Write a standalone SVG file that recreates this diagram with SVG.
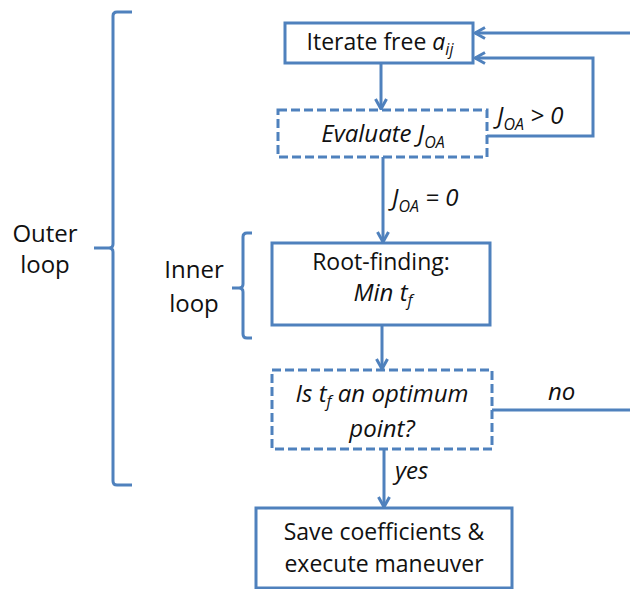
<svg xmlns="http://www.w3.org/2000/svg" width="630" height="589" viewBox="0 0 630 589">
  <style>
    .box { fill: #ffffff; stroke: #4F81BD; stroke-width: 3; }
    .dash { stroke-dasharray: 9 4; }
    .wire { fill: none; stroke: #4F81BD; stroke-width: 3; }
    .brace { fill: none; stroke: #4F81BD; stroke-width: 3; stroke-linejoin: round; }
    text { font-family: "Open Sans", "Liberation Sans", sans-serif; fill: #111111; }
    .t { font-size: 23px; text-anchor: middle; }
    .ti { font-size: 24px; font-style: italic; text-anchor: middle; }
    .lbl { font-size: 24px; font-style: italic; }
    .side { font-size: 24px; text-anchor: middle; }
    .i { font-style: italic; }
    .sub { font-size: 16px; }
  </style>
  <defs>
    <marker id="arrow" markerUnits="userSpaceOnUse" viewBox="0 0 14 14" refX="12" refY="7" markerWidth="14" markerHeight="14" orient="auto">
      <path d="M2,1.5 L12,7 L2,12.5" fill="none" stroke="#4F81BD" stroke-width="3" stroke-linejoin="miter"/>
    </marker>
  </defs>

  <!-- loop brackets -->
  <g id="outer-loop">
    <path class="brace" d="M132,12 H117 Q113,12 113,16 V244 Q113,248 109,248 H94 M109,248 Q113,248 113,252 V481 Q113,485 117,485 H132"/>
    <text class="side" x="45" y="242">Outer</text>
    <text class="side" x="45" y="273">loop</text>
  </g>
  <g id="inner-loop">
    <path class="brace" d="M252,233 H247 Q243,233 243,237 V284 Q243,288 239,288 H232 M239,288 Q243,288 243,292 V334 Q243,338 247,338 H252"/>
    <text class="side" x="194" y="278">Inner</text>
    <text class="side" x="194" y="312">loop</text>
  </g>

  <!-- connectors -->
  <g id="connectors">
    <path class="wire" d="M381,63 V109" marker-end="url(#arrow)"/>
    <path class="wire" d="M383,157 V242" marker-end="url(#arrow)"/>
    <path class="wire" d="M382,325 V369" marker-end="url(#arrow)"/>
    <path class="wire" d="M384,449 V507" marker-end="url(#arrow)"/>
    <path class="wire" d="M487,136 H593 V58 H475" marker-end="url(#arrow)"/>
    <path class="wire" d="M492,410 H640 V33 H475" marker-end="url(#arrow)"/>
    <text class="lbl" x="497" y="124">J<tspan class="sub" dy="6">OA</tspan><tspan dy="-6"> &gt; 0</tspan></text>
    <text class="lbl" x="392" y="206">J<tspan class="sub" dy="6">OA</tspan><tspan dy="-6"> = 0</tspan></text>
    <text class="lbl" x="548" y="400">no</text>
    <text class="lbl" x="395" y="479">yes</text>
  </g>

  <!-- nodes -->
  <g id="iterate">
    <rect class="box" x="285" y="23" width="188" height="40"/>
    <text class="t" x="380" y="50">Iterate free <tspan class="i">a</tspan><tspan class="i sub" dy="5">ij</tspan></text>
  </g>
  <g id="evaluate">
    <rect class="box dash" x="278" y="110" width="209" height="47"/>
    <text class="ti" x="383" y="142">Evaluate J<tspan class="sub" dy="6">OA</tspan></text>
  </g>
  <g id="root-finding">
    <rect class="box" x="272" y="243" width="218" height="82"/>
    <text class="t" x="381" y="270">Root-finding:</text>
    <text class="ti" x="383" y="301">Min t<tspan class="sub" dy="5">f</tspan></text>
  </g>
  <g id="optimum-check">
    <rect class="box dash" x="272" y="370" width="220" height="79"/>
    <text class="ti" x="382" y="402">Is t<tspan class="sub" dy="5">f</tspan><tspan dy="-5"> an optimum</tspan></text>
    <text class="ti" x="382" y="437">point?</text>
  </g>
  <g id="save">
    <rect class="box" x="256" y="508" width="256" height="80"/>
    <text class="t" x="384" y="540">Save coefficients &amp;</text>
    <text class="t" x="384" y="572">execute maneuver</text>
  </g>
</svg>
